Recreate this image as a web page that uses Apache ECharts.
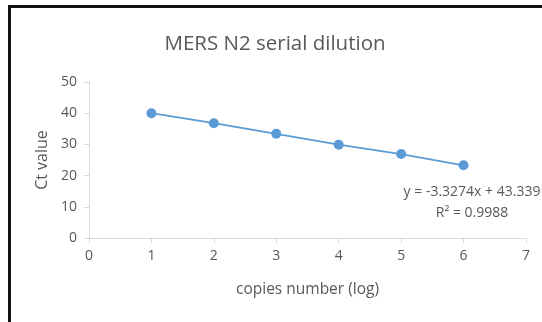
<!DOCTYPE html>
<html><head><meta charset="utf-8">
<script src="https://cdn.jsdelivr.net/npm/echarts@6/dist/echarts.min.js"></script>
<style>html,body{margin:0;padding:0;background:#fff}#c{width:542px;height:322px}</style>
</head><body><div id="c"></div>
<script>
const copiesLog = [1, 2, 3, 4, 5, 6];
const ctValues = [40.0, 36.8, 33.4, 29.9, 26.9, 23.3];
const xTicks = [0, 1, 2, 3, 4, 5, 6, 7];
const yTicks = [0, 10, 20, 30, 40, 50];
const titleText = 'MERS N2 serial dilution';
const eqText = 'y = -3.3274x + 43.339';
const r2Text = 'R² = 0.9988';

const font = '"Open Sans", sans-serif';
const gray = '#595959';
const chart = echarts.init(document.getElementById('c'), null, {renderer: 'canvas'});
chart.setOption({
  animation: false,
  title: {text: titleText, left: 270, top: 29, textAlign: 'center',
    textStyle: {fontFamily: font, fontSize: 20.5, fontWeight: 'normal', color: gray}},
  grid: {left: 89, right: 16, top: 82, bottom: 84},
  xAxis: {type: 'value', min: xTicks[0], max: xTicks[xTicks.length - 1], interval: 1,
    name: 'copies number (log)', nameLocation: 'middle', nameGap: 44,
    nameTextStyle: {fontFamily: font, fontSize: 15.5, color: gray},
    axisLine: {lineStyle: {color: '#d9d9d9'}},
    axisTick: {show: true, length: 5, lineStyle: {color: '#d9d9d9'}},
    axisLabel: {fontFamily: font, fontSize: 14, color: gray, margin: 11},
    splitLine: {show: false}},
  yAxis: {type: 'value', min: yTicks[0], max: yTicks[yTicks.length - 1], interval: 10,
    name: 'Ct value', nameLocation: 'middle', nameGap: 35,
    nameTextStyle: {fontFamily: font, fontSize: 16, color: gray},
    axisLine: {show: true, lineStyle: {color: '#d9d9d9'}},
    axisTick: {show: true, length: 5, lineStyle: {color: '#d9d9d9'}},
    axisLabel: {fontFamily: font, fontSize: 14, color: gray, margin: 12},
    splitLine: {show: false}},
  graphic: [
    {type: 'rect', shape: {x: 9.5, y: 6.5, width: 700, height: 500},
      style: {fill: 'none', stroke: '#111', lineWidth: 3}, silent: true},
    {type: 'text', x: 472, y: 192, style: {text: eqText, textAlign: 'center', textVerticalAlign: 'middle',
      font: '14px "Open Sans", sans-serif', fill: gray}},
    {type: 'text', x: 472, y: 213, style: {text: r2Text, textAlign: 'center', textVerticalAlign: 'middle',
      font: '14px "Open Sans", sans-serif', fill: gray}}
  ],
  series: [{type: 'line', data: copiesLog.map((x, i) => [x, ctValues[i]]),
    symbol: 'circle', symbolSize: 10,
    itemStyle: {color: '#5b9bd5'}, lineStyle: {color: '#5b9bd5', width: 1.8}}]
});
</script></body></html>
